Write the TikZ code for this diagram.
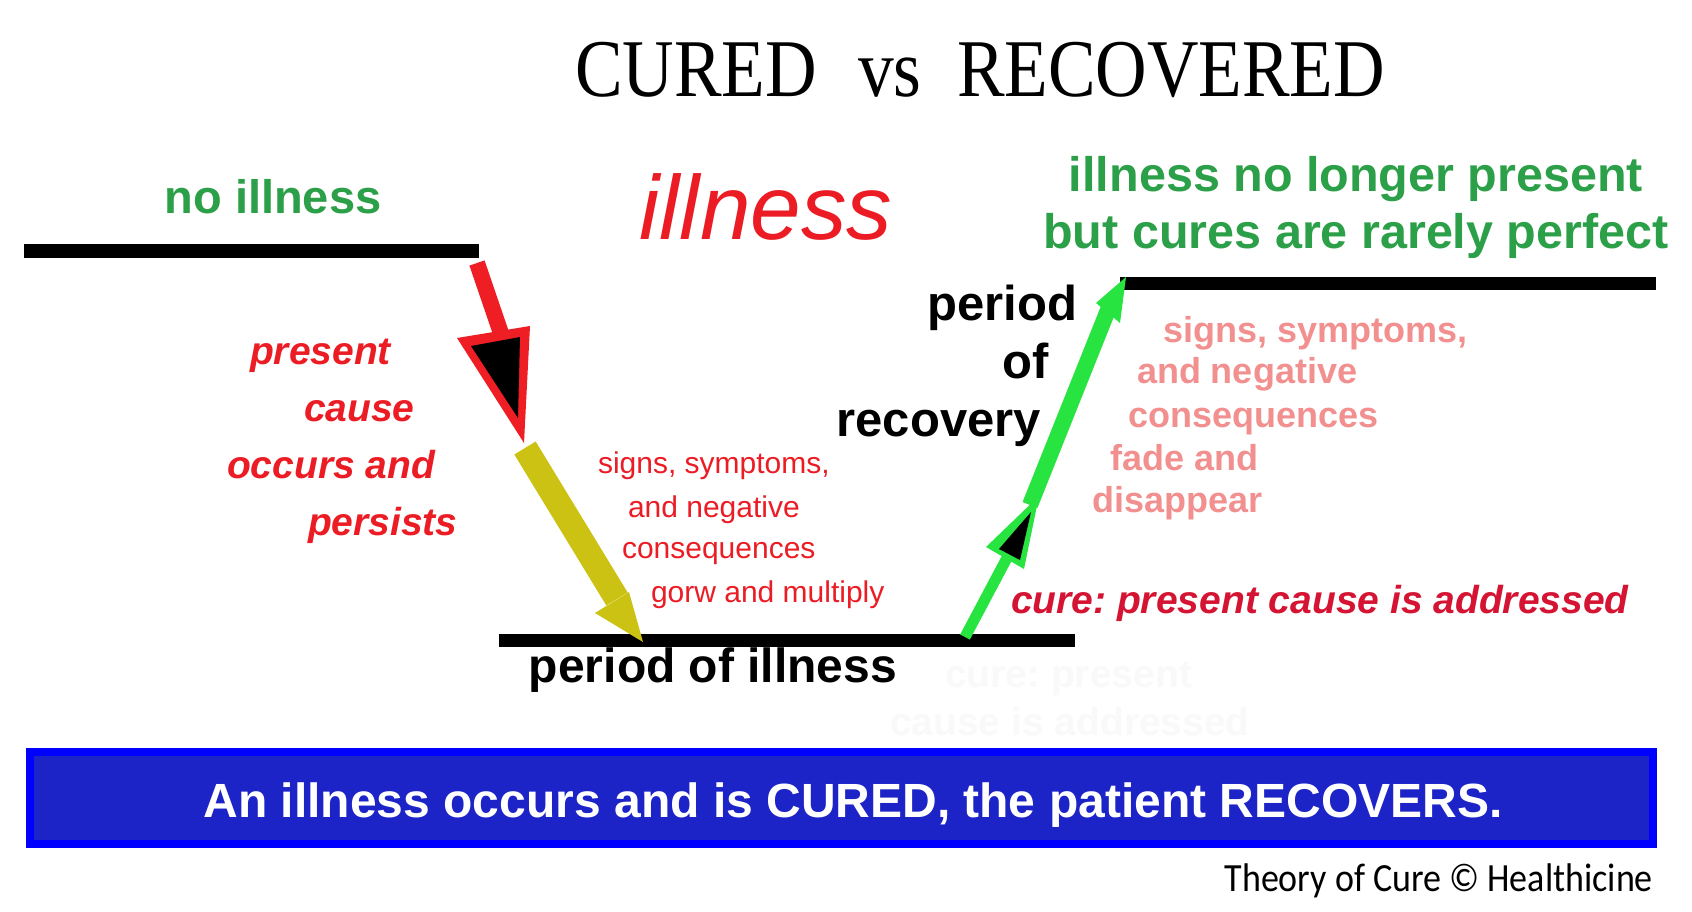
\documentclass[tikz,border=0pt]{standalone}
\usepackage{fontspec}
\setmainfont{Liberation Sans}
\newfontfamily\titlefont{Liberation Serif}
\newfontfamily\creditfont{Carlito}
\frenchspacing
\definecolor{greenT}{RGB}{44,160,72}
\definecolor{redT}{RGB}{236,28,36}
\definecolor{redA}{RGB}{238,30,36}
\definecolor{crimT}{RGB}{212,20,50}
\definecolor{pinkT}{RGB}{242,144,144}
\definecolor{yelA}{RGB}{204,194,20}
\definecolor{grnA}{RGB}{40,228,64}
\definecolor{banIn}{RGB}{28,36,200}
\definecolor{banOut}{RGB}{0,0,255}
\definecolor{ghost}{RGB}{249,249,249}
\newcommand{\fsz}[1]{\fontsize{#1}{#1}\selectfont}
\begin{document}
\begin{tikzpicture}[x=1pt,y=-1pt,
  txt/.style={inner sep=0pt,outer sep=0pt},
  bar/.style={line width=13pt,black},
  greentxt/.style={txt,anchor=base,text=greenT,font=\fsz{48.5}\bfseries},
  blacktxt/.style={txt,anchor=base east,font=\fsz{49}\bfseries},
  causetxt/.style={txt,anchor=base west,text=redT,font=\fsz{39}\bfseries\itshape},
  growtxt/.style={txt,anchor=base west,text=redT,font=\fsz{30}},
  fadetxt/.style={txt,anchor=base west,text=pinkT,font=\fsz{36}\bfseries},
  ghosttxt/.style={txt,anchor=base west,text=ghost,font=\fsz{39}\bfseries}]
\useasboundingbox[fill=white] (0,0) rectangle (1692,912);

% title
\node[txt,anchor=base west] (tc) at (575,97) {\titlefont\fsz{82}\scalebox{0.87}[1]{CURED}};
\node[txt,anchor=base west] (tv) at (858,97) {\titlefont\fsz{82}\scalebox{0.87}[1]{vs}};
\node[txt,anchor=base west] (tr) at (957,97) {\titlefont\fsz{82}\scalebox{0.87}[1]{RECOVERED}};

% bars
\coordinate (b1a) at (24,251); \coordinate (b1b) at (479,251);
\coordinate (b2a) at (499,640); \coordinate (b2b) at (1075,640);
\coordinate (b3a) at (1120,283); \coordinate (b3b) at (1656,283);
\draw[bar] (b1a) -- (b1b);
\draw[bar] (b2a) -- (b2b);
\draw[bar] (b3a) -- (b3b);

% red arrow
\coordinate (rs) at (477,263); \coordinate (re) at (505,345);
\draw[line width=16pt,redA] (rs) -- (re);
\fill[redA] (457,338) -- (530,326) -- (524,443) -- cycle;
\fill[black] (471,346) -- (520,337) -- (518,418) -- cycle;

% yellow arrow
\coordinate (ys) at (525,448); \coordinate (ye) at (617,599);
\draw[line width=25pt,yelA] (ys) -- (ye);
\fill[yelA] (595,613) -- (629,592) -- (643,642) -- cycle;

% green arrow
\coordinate (gs) at (965,637); \coordinate (gm) at (1008,556);
\draw[line width=11pt,grnA] (gs) -- (gm);
\fill[grnA] (986,547) -- (1024,569) -- (1039,496) -- cycle;
\fill[black] (999,549) -- (1020,560) -- (1031,512) -- cycle;
\coordinate (gu) at (1030,505); \coordinate (gt) at (1112,300);
\draw[line width=16pt,grnA] (gu) -- (gt);
\fill[grnA] (1096,303) -- (1120,323) -- (1126,277) -- cycle;

% texts
\node[greentxt,font=\fsz{47}\bfseries] (noill) at (273,214) {no illness};
\node[txt,anchor=base,text=redT,font=\fsz{91}\itshape] (ill) at (766,240) {illness};
\node[greentxt] (rt1) at (1356,192) {illness no longer present};
\node[greentxt] (rt2) at (1356,248) {but cures are rarely perfect};

\node[blacktxt] (pr1) at (1077,320) {period};
\node[blacktxt] (pr2) at (1049,378) {of};
\node[blacktxt] (pr3) at (1041,436) {recovery};
\node[txt,anchor=base,font=\fsz{48}\bfseries] (poi) at (713,682) {period of illness};

\node[causetxt] (lc1) at (250,364) {present};
\node[causetxt] (lc2) at (304,421) {cause};
\node[causetxt] (lc3) at (227,478) {occurs and};
\node[causetxt] (lc4) at (308,535) {persists};

\node[growtxt] (ms1) at (598,473) {signs, symptoms,};
\node[growtxt] (ms2) at (628,517) {and negative};
\node[growtxt] (ms3) at (622,558) {consequences};
\node[growtxt] (ms4) at (651,602) {gorw and multiply};

\node[fadetxt] (ps1) at (1163,342) {signs, symptoms,};
\node[fadetxt] (ps2) at (1137,383) {and negative};
\node[fadetxt] (ps3) at (1128,427) {consequences};
\node[fadetxt] (ps4) at (1110,470) {fade and};
\node[fadetxt] (ps5) at (1092,512) {disappear};

\node[causetxt,text=crimT] (cure) at (1011,613) {cure: present cause is addressed};

\node[ghosttxt] (gh1) at (945,687) {cure: present};
\node[ghosttxt] (gh2) at (890,735) {cause is addressed};

% banner
\node[draw=banOut,fill=banIn,line width=8pt,minimum width=1623pt,minimum height=92pt,inner sep=0pt] (banner) at (841.5,798) {};
\node[txt,anchor=base,text=white,font=\fsz{48}\bfseries] (bantxt) at (853,817) {An illness occurs and is CURED, the patient RECOVERS.};

% credit
\node[txt,anchor=base east] (credit) at (1653,891) {\creditfont\fsz{40}\scalebox{0.9}[1]{Theory of Cure © Healthicine}};
\end{tikzpicture}
\end{document}
